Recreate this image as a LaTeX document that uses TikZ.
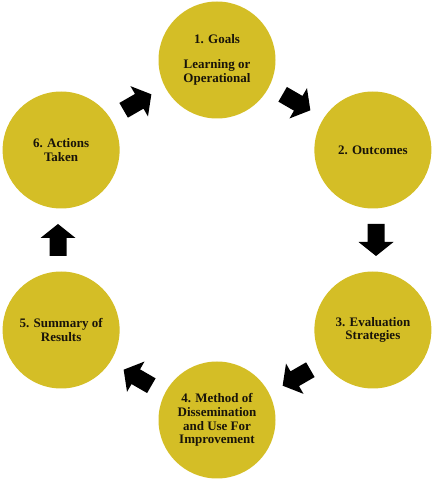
\documentclass[tikz,border=0pt]{standalone}
\usepackage{fontspec}
\setmainfont{Liberation Serif}
\usetikzlibrary{calc}
\definecolor{gold}{RGB}{212,190,38}
\definecolor{txt}{RGB}{25,20,10}
\tikzset{
  stepcircle/.style={circle, fill=gold, minimum size=117pt, inner sep=0pt, align=center,
    font=\fontsize{13}{13.8}\selectfont\bfseries, text=txt},
  blockarrow/.pic={\fill[black] (-16,-8.5) -- (2,-8.5) -- (2,-17.5) -- (16,0) -- (2,17.5) -- (2,8.5) -- (-16,8.5) -- cycle;}
}
\begin{document}
\begin{tikzpicture}[x=1pt,y=1pt]
\useasboundingbox (0,0) rectangle (434,480);
\coordinate (O) at (217,240);
\node[stepcircle] (c1) at ($(O)+(90:180)$) {1. Goals\\[11pt]Learning or\\Operational};
\node[stepcircle] (c2) at ($(O)+(30:180)$) {2. Outcomes};
\node[stepcircle] (c3) at ($(O)+(-30:180)$) {3. Evaluation\\Strategies};
\node[stepcircle] (c4) at ($(O)+(-90:180)$) {4. Method of\\Dissemination\\and Use For\\Improvement};
\node[stepcircle] (c5) at ($(O)+(-150:180)$) {5. Summary of\\Results};
\node[stepcircle] (c6) at ($(O)+(150:180)$) {6. Actions\\Taken};
\foreach \a/\n in {60/a12,0/a23,-60/a34,-120/a45,180/a56,120/a61}{
  \pic[rotate=\a-90] (\n) at ($(O)+(\a:159)$) {blockarrow};
}
\end{tikzpicture}
\end{document}
